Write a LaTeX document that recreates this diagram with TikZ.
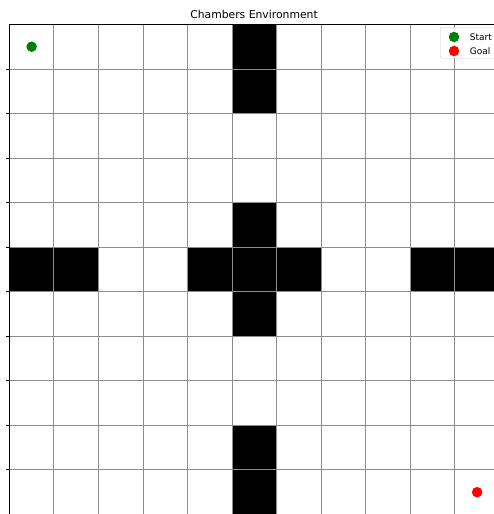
\documentclass[tikz,border=0pt]{standalone}
\usepackage{fontspec}
\setmainfont{DejaVu Sans}
\usetikzlibrary{positioning}
\definecolor{mplgreen}{HTML}{008000}
\definecolor{mplred}{HTML}{FF0000}

\begin{document}
\begin{tikzpicture}[x=1pt, y=-1pt,
        wall/.style={fill=black},
        gridline/.style={draw=black!45, line width=0.9pt},
        marker/.style={circle, inner sep=0pt, minimum size=10.5pt}]
        \useasboundingbox (0,0) rectangle (494,514);

        % Walls and grid
        \begin{scope}
            \clip (0,0) rectangle (494,514);
            \foreach \c/\r in {5/0,5/1,5/4,0/5,1/5,4/5,5/5,6/5,9/5,10/5,5/6,5/9,5/10}
                \fill[wall] (9.3+44.55*\c, 24.4+44.55*\r) rectangle ++(44.55,44.55);
            \foreach \i in {1,...,10} {
                \draw[gridline] (9.3+44.55*\i, 24.4) -- (9.3+44.55*\i, 514.4);
                \draw[gridline] (9.3, 24.4+44.55*\i) -- (499.3, 24.4+44.55*\i);
                \draw[line width=0.9pt] (5.8, 24.4+44.55*\i) -- (9.3, 24.4+44.55*\i);
            }
            \draw[line width=1.1pt] (9.3,514.4) -- (9.3,24.4) -- (499.3,24.4);
        \end{scope}

        % Title
        \node[font=\fontsize{10.8}{13}\selectfont, anchor=base] (title) at (254, 18.7) {Chambers Environment};

        % Start and goal
        \node[marker, fill=mplgreen] (start) at (31.6, 46.7) {};
        \node[marker, fill=mplred] (goal) at (477.1, 492.2) {};

        % Legend
        \node[draw=black!20, fill=white, fill opacity=0.8, text opacity=1, rounded corners=2pt,
              minimum width=62pt, minimum height=31pt, anchor=north west] (legend) at (440, 27) {};
        \node[marker, fill=mplgreen] (startkey) at (454, 37) {};
        \node[marker, fill=mplred] (goalkey) at (454, 51) {};
        \node[font=\fontsize{9}{11}\selectfont, right=7pt of startkey] (startlabel) {Start};
        \node[font=\fontsize{9}{11}\selectfont, right=7pt of goalkey] (goallabel) {Goal};
\end{tikzpicture}
\end{document}
